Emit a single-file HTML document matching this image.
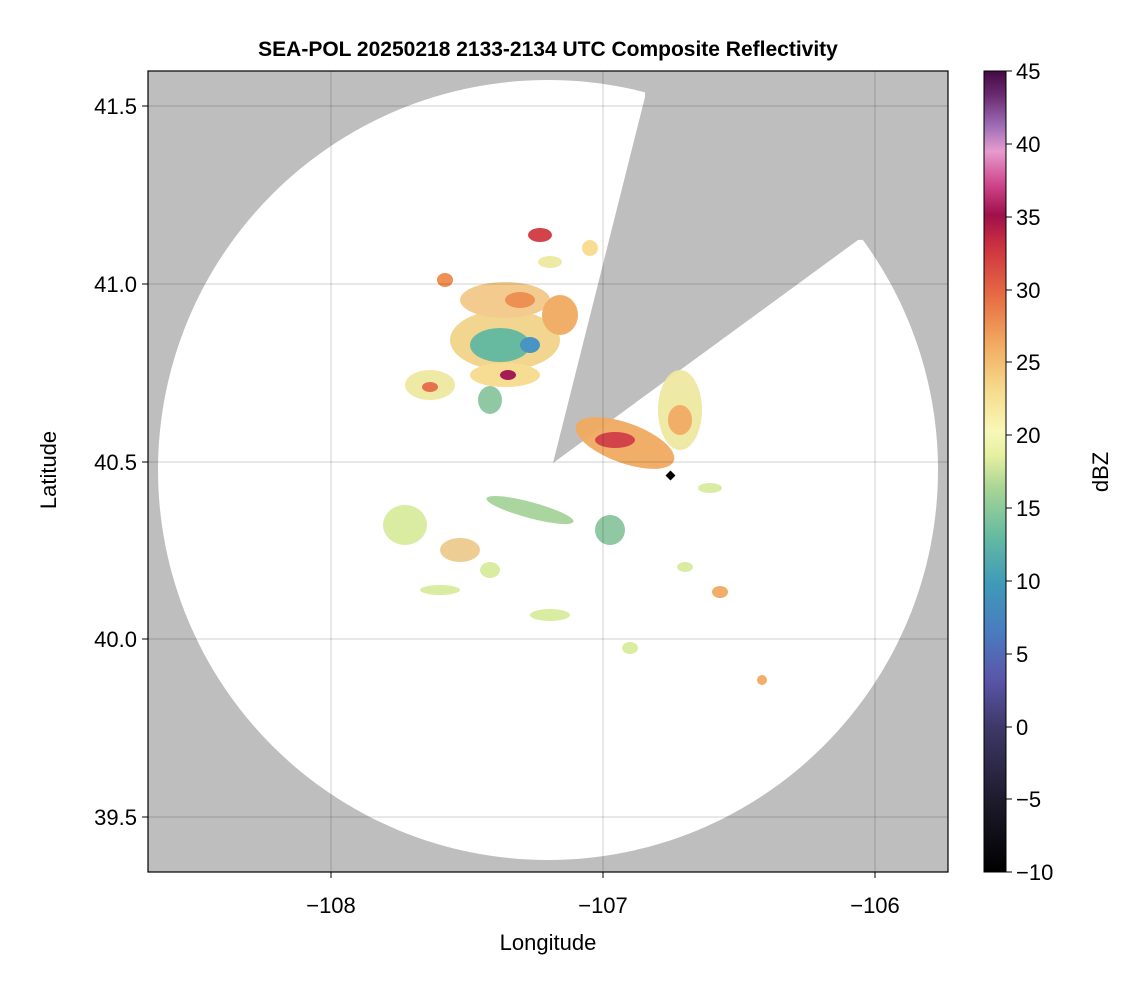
<!DOCTYPE html>
<html><head><meta charset="utf-8"><style>
body{margin:0;background:#fff;font-family:"Liberation Sans",sans-serif}
</style></head><body>
<svg width="1146" height="990" viewBox="0 0 1146 990" xmlns="http://www.w3.org/2000/svg" font-family="Liberation Sans, sans-serif">
<defs>
<clipPath id="pc"><rect x="148" y="71" width="800" height="801"/></clipPath>
<linearGradient id="cb" x1="0" y1="1" x2="0" y2="0">
<stop offset="0" stop-color="#000000"/>
<stop offset="0.09" stop-color="#1e1b2c"/>
<stop offset="0.18" stop-color="#3e3868"/>
<stop offset="0.24" stop-color="#5a55a8"/>
<stop offset="0.30" stop-color="#4a7cc0"/>
<stop offset="0.36" stop-color="#3f9ab8"/>
<stop offset="0.42" stop-color="#66bba0"/>
<stop offset="0.48" stop-color="#aad596"/>
<stop offset="0.52" stop-color="#e6f0a0"/>
<stop offset="0.55" stop-color="#f8f8b8"/>
<stop offset="0.60" stop-color="#f6dc8e"/>
<stop offset="0.66" stop-color="#f1aa60"/>
<stop offset="0.72" stop-color="#e76a44"/>
<stop offset="0.78" stop-color="#cc3340"/>
<stop offset="0.82" stop-color="#a0104a"/>
<stop offset="0.86" stop-color="#d0488e"/>
<stop offset="0.90" stop-color="#e69ccc"/>
<stop offset="0.93" stop-color="#a070b8"/>
<stop offset="0.97" stop-color="#6a2a70"/>
<stop offset="1" stop-color="#440a44"/>
</linearGradient>
</defs>
<g clip-path="url(#pc)">
<rect x="148" y="71" width="800" height="801" fill="#bebebe"/>
<ellipse cx="548" cy="470" rx="390" ry="390" fill="#fff"/>
<polygon points="553,463 645,97 645,60 960,60 960,236 858,240" fill="#bebebe"/>
<g opacity="0.95">
<ellipse cx="505" cy="340" rx="55" ry="30" fill="#f2d48a"/>
<ellipse cx="500" cy="345" rx="30" ry="17" fill="#5fb79a"/>
<ellipse cx="530" cy="345" rx="10" ry="8" fill="#3f8fc0"/>
<ellipse cx="505" cy="300" rx="45" ry="18" fill="#f3c98a"/>
<ellipse cx="520" cy="300" rx="15" ry="8" fill="#ee8a4a"/>
<ellipse cx="560" cy="315" rx="18" ry="20" fill="#f1aa60"/>
<ellipse cx="505" cy="375" rx="35" ry="12" fill="#f6dc8e"/>
<ellipse cx="508" cy="375" rx="8" ry="5" fill="#a0104a"/>
<ellipse cx="430" cy="385" rx="25" ry="15" fill="#eee8a0"/>
<ellipse cx="430" cy="387" rx="8" ry="5" fill="#e76a44"/>
<ellipse cx="490" cy="400" rx="12" ry="14" fill="#8ac69e"/>
<ellipse cx="540" cy="235" rx="12" ry="7" fill="#d03a40"/>
<ellipse cx="550" cy="262" rx="12" ry="6" fill="#eee8a0"/>
<ellipse cx="590" cy="248" rx="8" ry="8" fill="#f6dc8e"/>
<ellipse cx="445" cy="280" rx="8" ry="7" fill="#ee8a4a"/>
<ellipse cx="625" cy="443" rx="52" ry="20" fill="#f1aa60" transform="rotate(20 625 443)"/>
<ellipse cx="615" cy="440" rx="20" ry="8" fill="#d03a40"/>
<ellipse cx="680" cy="410" rx="22" ry="40" fill="#eee8a0"/>
<ellipse cx="680" cy="420" rx="12" ry="15" fill="#f1aa60"/>
<ellipse cx="530" cy="510" rx="45" ry="8" fill="#a6d39a" transform="rotate(15 530 510)"/>
<ellipse cx="610" cy="530" rx="15" ry="15" fill="#8ac69e"/>
<ellipse cx="405" cy="525" rx="22" ry="20" fill="#d8eb9c"/>
<ellipse cx="460" cy="550" rx="20" ry="12" fill="#eecb90"/>
<ellipse cx="440" cy="590" rx="20" ry="5" fill="#d8eb9c"/>
<ellipse cx="490" cy="570" rx="10" ry="8" fill="#d8eb9c"/>
<ellipse cx="550" cy="615" rx="20" ry="6" fill="#d8eb9c"/>
<ellipse cx="630" cy="648" rx="8" ry="6" fill="#d8eb9c"/>
<ellipse cx="685" cy="567" rx="8" ry="5" fill="#d8eb9c"/>
<ellipse cx="720" cy="592" rx="8" ry="6" fill="#f1aa60"/>
<ellipse cx="762" cy="680" rx="5" ry="5" fill="#f1aa60"/>
<ellipse cx="710" cy="488" rx="12" ry="5" fill="#d8eb9c"/>
</g>
<rect x="667" y="472" width="7" height="7" fill="#000" transform="rotate(45 670.5 475.5)"/>
<g stroke="#000" stroke-opacity="0.12" stroke-width="1.5">
<line x1="331" y1="71" x2="331" y2="872"/><line x1="603" y1="71" x2="603" y2="872"/><line x1="875" y1="71" x2="875" y2="872"/>
<line x1="148" y1="106" x2="948" y2="106"/><line x1="148" y1="284" x2="948" y2="284"/><line x1="148" y1="462" x2="948" y2="462"/><line x1="148" y1="639" x2="948" y2="639"/><line x1="148" y1="817" x2="948" y2="817"/>
</g>
</g>
<rect x="148" y="71" width="800" height="801" fill="none" stroke="#000" stroke-width="1.2"/>
<g stroke="#000" stroke-width="1">
<line x1="331" y1="872" x2="331" y2="878"/><line x1="603" y1="872" x2="603" y2="878"/><line x1="875" y1="872" x2="875" y2="878"/>
<line x1="142" y1="106" x2="148" y2="106"/><line x1="142" y1="284" x2="148" y2="284"/><line x1="142" y1="462" x2="148" y2="462"/><line x1="142" y1="639" x2="148" y2="639"/><line x1="142" y1="817" x2="148" y2="817"/>
</g>
<g font-size="22" fill="#000" text-anchor="middle">
<text x="331" y="913">−108</text><text x="603" y="913">−107</text><text x="875" y="913">−106</text>
<text x="548" y="950">Longitude</text>
</g>
<g font-size="22" fill="#000" text-anchor="end">
<text x="137" y="114">41.5</text><text x="137" y="292">41.0</text><text x="137" y="470">40.5</text><text x="137" y="647">40.0</text><text x="137" y="825">39.5</text>
</g>
<text transform="translate(56 470) rotate(-90)" font-size="22" text-anchor="middle">Latitude</text>
<text x="548" y="56" font-size="21" font-weight="bold" text-anchor="middle">SEA-POL 20250218 2133-2134 UTC Composite Reflectivity</text>
<rect x="984" y="71" width="22" height="801" fill="url(#cb)"/>
<rect x="984" y="71" width="22" height="801" fill="none" stroke="#000" stroke-width="1"/>
<g stroke="#000"><line x1="1006" y1="71" x2="1012" y2="71"/><line x1="1006" y1="144" x2="1012" y2="144"/><line x1="1006" y1="217" x2="1012" y2="217"/><line x1="1006" y1="290" x2="1012" y2="290"/><line x1="1006" y1="362" x2="1012" y2="362"/><line x1="1006" y1="435" x2="1012" y2="435"/><line x1="1006" y1="508" x2="1012" y2="508"/><line x1="1006" y1="581" x2="1012" y2="581"/><line x1="1006" y1="654" x2="1012" y2="654"/><line x1="1006" y1="727" x2="1012" y2="727"/><line x1="1006" y1="799" x2="1012" y2="799"/><line x1="1006" y1="872" x2="1012" y2="872"/></g>
<g font-size="22" fill="#000">
<text x="1016" y="79">45</text><text x="1016" y="152">40</text><text x="1016" y="225">35</text><text x="1016" y="298">30</text><text x="1016" y="370">25</text><text x="1016" y="443">20</text><text x="1016" y="516">15</text><text x="1016" y="589">10</text><text x="1016" y="662">5</text><text x="1016" y="735">0</text><text x="1016" y="807">−5</text><text x="1016" y="880">−10</text>
</g>
<text transform="translate(1108 472) rotate(-90)" font-size="22" text-anchor="middle">dBZ</text>
</svg>
</body></html>
